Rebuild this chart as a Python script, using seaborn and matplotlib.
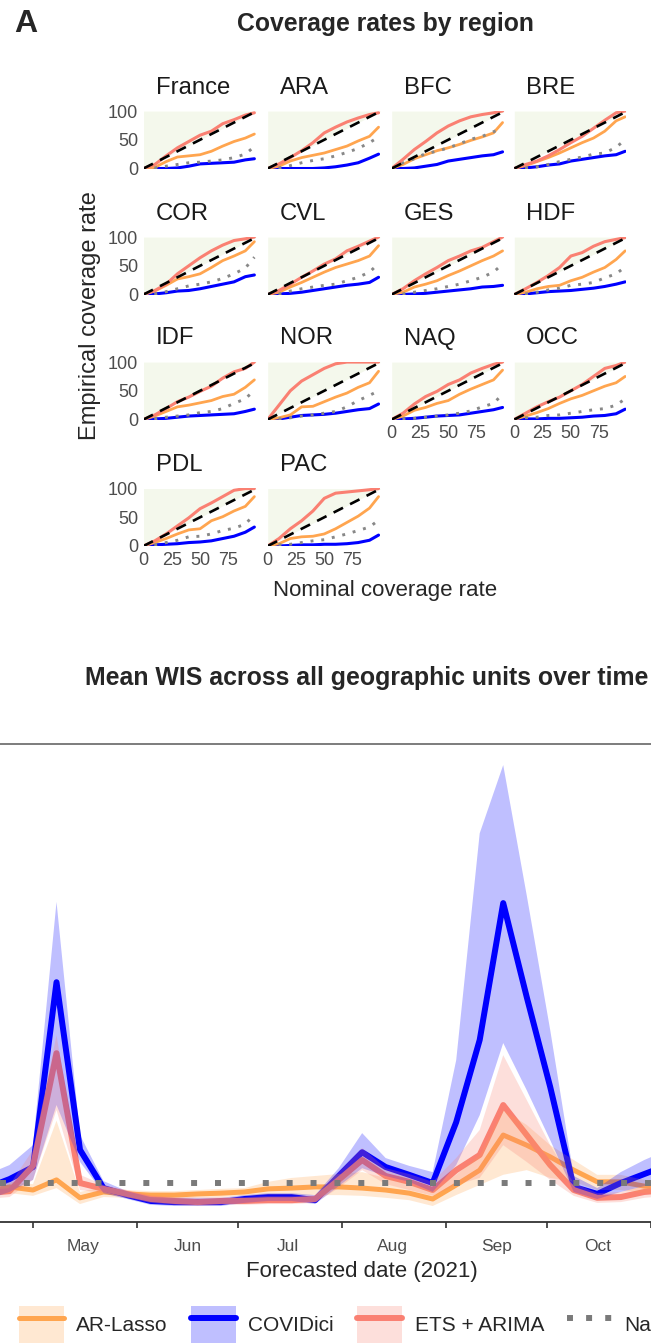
import numpy as np
import pandas as pd
import seaborn as sns
import matplotlib.pyplot as plt
import matplotlib.dates as mdates
from matplotlib.lines import Line2D
from matplotlib.patches import Patch

# ---------------- datos: tasas de cobertura por region ----------------
niveles = [0, 10, 20, 30, 40, 50, 60, 70, 80, 90, 98]
regiones = ["France", "ARA", "BFC", "BRE", "COR", "CVL", "GES", "HDF",
            "IDF", "NOR", "NAQ", "OCC", "PDL", "PAC"]

cob_ets = [
    [0, 7, 22, 36, 47, 58, 65, 78, 85, 93, 97],
    [0, 8, 19, 31, 45, 62, 72, 81, 88, 94, 97],
    [0, 16, 33, 47, 62, 74, 83, 90, 94, 97, 100],
    [0, 7, 13, 22, 33, 45, 56, 70, 84, 97, 100],
    [0, 7, 18, 36, 50, 64, 76, 86, 94, 97, 100],
    [0, 7, 18, 30, 41, 53, 62, 76, 84, 93, 100],
    [0, 10, 24, 36, 47, 59, 67, 76, 82, 92, 100],
    [0, 10, 21, 33, 47, 67, 73, 84, 92, 96, 99],
    [0, 8, 19, 31, 39, 49, 58, 72, 83, 89, 100],
    [0, 25, 50, 67, 78, 89, 97, 100, 100, 100, 100],
    [0, 11, 27, 40, 49, 61, 69, 81, 89, 96, 100],
    [0, 11, 22, 31, 39, 50, 61, 75, 89, 94, 100],
    [0, 9, 21, 35, 49, 65, 75, 86, 97, 100, 100],
    [0, 13, 30, 44, 61, 83, 92, 94, 96, 98, 100],
]
cob_arlasso = [
    [0, 2, 12, 20, 22, 24, 30, 39, 47, 53, 60],
    [0, 4, 13, 19, 23, 27, 33, 39, 48, 56, 72],
    [0, 7, 17, 24, 31, 36, 42, 49, 55, 62, 80],
    [0, 5, 12, 19, 27, 36, 45, 53, 65, 83, 90],
    [0, 6, 16, 27, 31, 36, 47, 59, 67, 76, 92],
    [0, 4, 13, 21, 30, 39, 47, 53, 59, 67, 85],
    [0, 4, 13, 18, 24, 33, 41, 50, 59, 67, 76],
    [0, 4, 10, 14, 16, 24, 30, 39, 47, 61, 76],
    [0, 6, 14, 22, 25, 29, 33, 40, 44, 56, 69],
    [0, 3, 8, 22, 23, 31, 39, 46, 56, 64, 84],
    [0, 6, 16, 21, 28, 33, 44, 53, 61, 69, 86],
    [0, 6, 12, 19, 28, 36, 42, 50, 58, 64, 75],
    [0, 6, 13, 21, 28, 30, 44, 51, 61, 69, 86],
    [0, 4, 13, 16, 17, 21, 30, 41, 52, 66, 86],
]
cob_covidici = [
    [0, 0, 0, 1, 4, 8, 9, 10, 11, 15, 17],
    [0, 0, 0, 0, 0, 1, 3, 6, 10, 18, 25],
    [0, 0, 1, 4, 7, 13, 16, 19, 22, 24, 29],
    [0, 1, 3, 6, 8, 13, 16, 19, 22, 24, 30],
    [0, 1, 3, 6, 7, 10, 14, 18, 22, 31, 34],
    [0, 1, 2, 4, 7, 10, 13, 16, 18, 21, 30],
    [0, 0, 1, 2, 4, 6, 8, 10, 13, 14, 16],
    [0, 1, 3, 5, 6, 7, 9, 11, 14, 18, 22],
    [0, 1, 2, 4, 6, 7, 8, 9, 10, 14, 18],
    [0, 1, 4, 7, 8, 9, 11, 14, 17, 19, 27],
    [0, 1, 2, 4, 6, 7, 8, 11, 14, 17, 21],
    [0, 1, 1, 2, 2, 3, 4, 6, 7, 10, 18],
    [0, 2, 3, 4, 6, 7, 9, 13, 17, 24, 33],
    [0, 0, 1, 2, 2, 3, 3, 4, 6, 10, 19],
]
cob_naive = [
    [0, 1, 4, 7, 10, 11, 13, 15, 19, 25, 38],
    [0, 1, 5, 10, 14, 17, 22, 28, 35, 45, 55],
    [0, 10, 17, 26, 30, 36, 43, 51, 56, 64, 71],
    [0, 1, 3, 7, 12, 16, 20, 25, 27, 37, 50],
    [0, 1, 5, 10, 15, 18, 22, 28, 36, 46, 65],
    [0, 1, 6, 10, 13, 16, 18, 24, 30, 39, 54],
    [0, 1, 4, 7, 10, 14, 18, 24, 30, 39, 53],
    [0, 1, 4, 8, 11, 16, 18, 21, 29, 36, 48],
    [0, 1, 4, 6, 8, 12, 14, 19, 28, 36, 51],
    [0, 1, 3, 6, 8, 11, 14, 22, 33, 42, 50],
    [0, 1, 2, 4, 6, 8, 11, 15, 22, 28, 44],
    [0, 3, 4, 7, 8, 11, 14, 17, 19, 25, 36],
    [0, 2, 6, 10, 16, 17, 21, 27, 31, 38, 55],
    [0, 2, 3, 6, 9, 11, 16, 21, 27, 33, 45],
]

# ---------------- datos: WIS medio en el tiempo ----------------
fechas = pd.date_range("2021-04-17", periods=30, freq="7D")

wis_covidici = [0.87, 1.10, 1.41, 6.15, 1.85, 0.87, 0.69, 0.54, 0.51, 0.51,
                0.51, 0.59, 0.64, 0.64, 0.56, 1.18, 1.79, 1.41, 1.21, 1.00,
                2.56, 4.67, 8.18, 5.77, 3.46, 0.90, 0.72, 1.00, 1.23, 1.46]
covidici_lo = [0.56, 0.77, 1.08, 3.00, 1.54, 0.74, 0.59, 0.44, 0.41, 0.41,
               0.41, 0.49, 0.54, 0.54, 0.46, 0.92, 1.38, 1.18, 1.03, 0.77,
               1.46, 2.74, 4.59, 3.38, 2.10, 0.77, 0.59, 0.77, 0.92, 1.08]
covidici_hi = [1.21, 1.46, 1.97, 8.21, 2.23, 1.05, 0.79, 0.64, 0.62, 0.62,
               0.62, 0.69, 0.74, 0.74, 0.69, 1.38, 2.28, 1.64, 1.44, 1.28,
               4.15, 9.97, 11.72, 8.38, 4.92, 1.18, 0.87, 1.28, 1.59, 1.85]

wis_ets = [0.74, 0.79, 1.44, 4.33, 1.00, 0.85, 0.72, 0.59, 0.54, 0.51,
           0.54, 0.54, 0.56, 0.56, 0.59, 1.08, 1.59, 1.18, 1.03, 0.82,
           1.33, 1.72, 3.00, 2.23, 1.46, 0.82, 0.62, 0.64, 0.77, 0.82]
ets_lo = [0.59, 0.64, 1.08, 2.87, 0.82, 0.74, 0.62, 0.49, 0.44, 0.41,
          0.44, 0.44, 0.46, 0.46, 0.49, 0.87, 1.33, 0.97, 0.82, 0.67,
          0.95, 1.13, 1.97, 1.54, 1.08, 0.67, 0.49, 0.51, 0.62, 0.67]
ets_hi = [0.90, 0.95, 1.85, 4.79, 1.21, 0.95, 0.82, 0.69, 0.64, 0.62,
          0.64, 0.64, 0.67, 0.67, 0.69, 1.28, 1.90, 1.38, 1.23, 1.03,
          1.64, 2.36, 4.28, 3.13, 1.97, 1.00, 0.74, 0.77, 0.92, 0.97]

wis_arlasso = [0.77, 0.90, 0.82, 1.08, 0.62, 0.77, 0.72, 0.69, 0.69, 0.72,
               0.74, 0.77, 0.85, 0.87, 0.90, 0.90, 0.87, 0.82, 0.74, 0.59,
               0.95, 1.33, 2.23, 1.97, 1.67, 1.33, 1.03, 1.03, 0.92, 0.87]
arlasso_lo = [0.64, 0.74, 0.67, 0.87, 0.46, 0.64, 0.62, 0.59, 0.59, 0.62,
              0.64, 0.67, 0.69, 0.69, 0.69, 0.69, 0.67, 0.62, 0.56, 0.41,
              0.69, 0.95, 1.21, 1.33, 1.13, 1.03, 0.82, 0.82, 0.74, 0.69]
arlasso_hi = [0.92, 1.03, 0.97, 2.60, 0.77, 0.90, 0.82, 0.79, 0.79, 0.82,
              0.85, 0.87, 1.03, 1.13, 1.18, 1.23, 1.28, 1.13, 0.97, 0.82,
              1.21, 1.72, 2.87, 2.49, 1.97, 1.59, 1.21, 1.21, 1.08, 1.03]

wis_naive = 1.0

C_AR = "#FFA54F"
C_COV = "#0000FF"
C_ETS = "#FA8072"
C_NAIVE = "#7A7A7A"

# ---------------- figura ----------------
W, H = 651, 1344
sns.set_theme(style="white")
plt.rcParams["font.family"] = ["Liberation Sans", "DejaVu Sans"]

fig = plt.figure(figsize=(W / 100, H / 100), dpi=100)


def caja(x, y, w, h):
    # px (desde arriba-izquierda) -> fraccion de figura
    return [x / W, 1 - (y + h) / H, w / W, h / H]


col_x = [143.5, 267.7, 391.7, 514.3]
fila_y = [110.5, 236.5, 361.5, 488.0]
pw, ph = 112, 58

for i, reg in enumerate(regiones):
    f, c = divmod(i, 4)
    ax = fig.add_axes(caja(col_x[c], fila_y[f], pw, ph))
    ax.fill_between([0, 100], [0, 100], 100, color="#F4F8EC", lw=0, zorder=0)
    sns.lineplot(x=niveles, y=cob_covidici[i], color=C_COV, lw=2.2, ax=ax, zorder=3)
    sns.lineplot(x=niveles, y=cob_arlasso[i], color=C_AR, lw=2.0, ax=ax, zorder=3)
    sns.lineplot(x=niveles, y=cob_naive[i], color="#888888", lw=2.1,
                 linestyle=(0, (1, 2.7)), ax=ax, zorder=3)
    sns.lineplot(x=niveles, y=cob_ets[i], color=C_ETS, lw=2.2, ax=ax, zorder=4)
    sns.lineplot(x=[0, 98], y=[0, 98], color="black", lw=1.9,
                 linestyle=(0, (4, 3)), ax=ax, zorder=5)
    ax.set_xlim(0, 99)
    ax.set_ylim(0, 101)
    sns.despine(ax=ax, left=True, bottom=True)
    ax.tick_params(length=0, labelsize=13, labelcolor="#4D4D4D", pad=4)
    ax.set_xticks([0, 25, 50, 75])
    ax.set_yticks([0, 50, 100])
    if c != 0:
        ax.set_yticklabels([])
    if reg not in ("NAQ", "OCC", "PDL", "PAC"):
        ax.set_xticklabels([])
    ax.set_xlabel("")
    ax.set_ylabel("")
    ax.grid(False)
    ax.text(12 / pw, 1 + 17 / ph, reg, transform=ax.transAxes,
            fontsize=17.2, color="#1A1A1A", va="baseline", ha="left")

fig.text(14 / W, 1 - 32 / H, "A", fontsize=23, fontweight="bold", va="baseline")
fig.text(385 / W, 1 - 31 / H, "Coverage rates by region",
         fontsize=17.8, fontweight="bold", ha="center", va="baseline")
fig.text(90 / W, 1 - 316 / H, "Empirical coverage rate", rotation=90,
         fontsize=17, ha="center", va="center")
fig.text(385 / W, 1 - 591 / H, "Nominal coverage rate", fontsize=16,
         ha="center", va="center")

# ---------------- WIS en el tiempo ----------------
axb = fig.add_axes(caja(0, 744, W, 1222 - 744))
modelos = [
    ("AR-Lasso", wis_arlasso, arlasso_lo, arlasso_hi, C_AR, 3.6),
    ("COVIDici", wis_covidici, covidici_lo, covidici_hi, C_COV, 4.3),
    ("ETS + ARIMA", wis_ets, ets_lo, ets_hi, C_ETS, 4.3),
]
for nombre, med, lo, hi, col, lw in modelos:
    sns.lineplot(x=fechas, y=med, color=col, lw=lw, ax=axb, zorder=2)
for nombre, med, lo, hi, col, lw in modelos:
    axb.fill_between(fechas, lo, hi, color=col, alpha=0.25, lw=0, zorder=3)
axb.axhline(wis_naive, color=C_NAIVE, lw=4.3, linestyle=(0, (1, 3)),
            dash_capstyle="butt", zorder=4)

izq = mdates.date2num(pd.Timestamp("2021-05-01")) - 33 / ((651 - 33) / 184)
axb.set_xlim(izq, mdates.date2num(pd.Timestamp("2021-11-01")))
axb.set_ylim(0, 12.26)
axb.set_yticks([])
axb.set_xticks(pd.date_range("2021-05-01", "2021-11-01", freq="MS"))
axb.set_xticklabels([])
axb.set_xticks(pd.date_range("2021-05-01", "2021-10-01", freq="MS") + pd.Timedelta(days=15),
               minor=True)
axb.xaxis.set_minor_formatter(mdates.DateFormatter("%b"))
axb.tick_params(axis="x", which="major", length=4.5, width=1.2, color="#333333",
                direction="out", bottom=True)
axb.tick_params(axis="x", which="minor", length=0, labelsize=12.5,
                labelcolor="#4D4D4D", pad=12, bottom=True)
for lado in ("left", "right"):
    axb.spines[lado].set_visible(False)
axb.spines["top"].set_color("#666666")
axb.spines["top"].set_linewidth(1.2)
axb.spines["bottom"].set_color("#333333")
axb.spines["bottom"].set_linewidth(1.3)
axb.set_xlabel("")
axb.set_ylabel("")
axb.grid(False)

fig.text(85 / W, 1 - 685 / H, "Mean WIS across all geographic units over time",
         fontsize=17.9, fontweight="bold", va="baseline", ha="left")
fig.text(362 / W, 1 - 1271 / H, "Forecasted date (2021)", fontsize=16,
         ha="center", va="center")

manejadores = []
for nombre, med, lo, hi, col, lw in modelos:
    manejadores.append((Patch(facecolor=col, alpha=0.25, lw=0),
                        Line2D([], [], color=col, lw=lw)))
manejadores.append(Line2D([], [], color=C_NAIVE, lw=4.3, linestyle=(0, (1, 2.2))))
etiquetas = ["AR-Lasso", "COVIDici", "ETS + ARIMA", "Naive"]
fig.legend(manejadores, etiquetas, loc="upper left",
           bbox_to_anchor=(19 / W, 1 - 1306 / H), ncol=4, frameon=False,
           fontsize=15, handlelength=2.15, handleheight=2.35, handletextpad=0.6,
           columnspacing=1.12, borderpad=0, borderaxespad=0)

fig.savefig("out.png", dpi=100)
